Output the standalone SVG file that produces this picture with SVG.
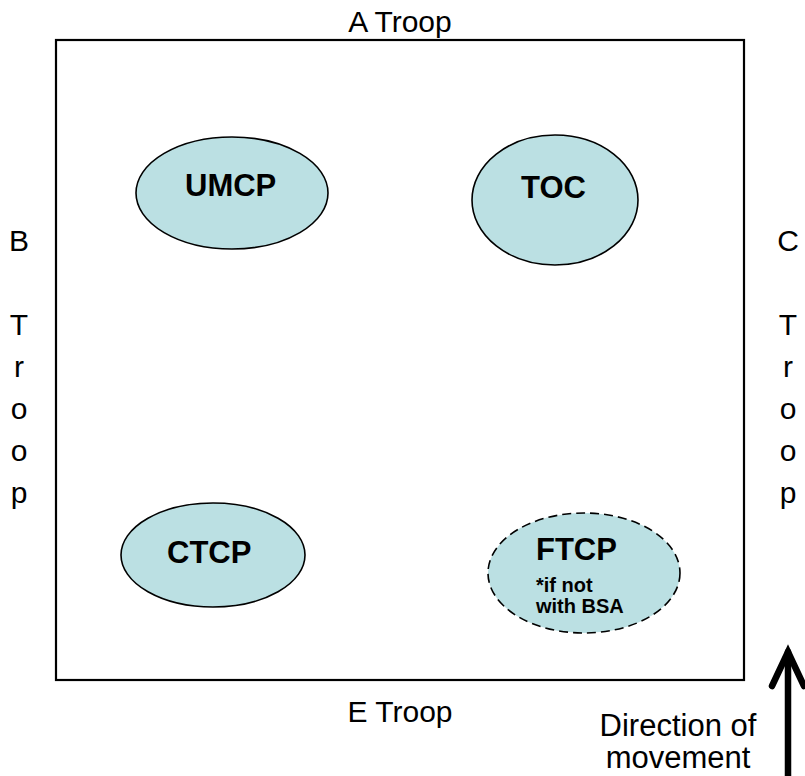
<svg xmlns="http://www.w3.org/2000/svg" width="805" height="776" viewBox="0 0 805 776">
  <style>
    .lbl { font-family: "Liberation Sans", Arial, sans-serif; font-size: 30px; fill: #000; }
    .node { fill: #bbe0e3; stroke: #000; stroke-width: 1.6; }
    .dashed { stroke-dasharray: 9 5; }
    .name { font-family: "Liberation Sans", Arial, sans-serif; font-size: 31px; font-weight: bold; fill: #000; }
    .note { font-family: "Liberation Sans", Arial, sans-serif; font-size: 20px; font-weight: bold; fill: #000; }
  </style>
  <rect width="805" height="776" fill="#fff"/>

  <!-- area boundary -->
  <rect id="area" x="56" y="40" width="688" height="640" fill="none" stroke="#000" stroke-width="2.2"/>

  <!-- surrounding troops -->
  <text class="lbl" x="400" y="32" text-anchor="middle">A Troop</text>
  <text class="lbl" x="400" y="722" text-anchor="middle">E Troop</text>
  <g class="lbl" text-anchor="middle">
    <text x="19" y="251">B</text>
    <text x="19" y="335">T</text>
    <text x="19" y="377">r</text>
    <text x="19" y="419">o</text>
    <text x="19" y="461">o</text>
    <text x="19" y="503">p</text>
  </g>
  <g class="lbl" text-anchor="middle">
    <text x="788" y="251">C</text>
    <text x="788" y="335">T</text>
    <text x="788" y="377">r</text>
    <text x="788" y="419">o</text>
    <text x="788" y="461">o</text>
    <text x="788" y="503">p</text>
  </g>

  <!-- command posts -->
  <g id="umcp">
    <ellipse class="node" cx="232" cy="193" rx="96" ry="56"/>
    <text class="name" x="185" y="196">UMCP</text>
  </g>
  <g id="toc">
    <ellipse class="node" cx="555" cy="200" rx="83" ry="65"/>
    <text class="name" x="521" y="198">TOC</text>
  </g>
  <g id="ctcp">
    <ellipse class="node" cx="213" cy="555" rx="92" ry="52"/>
    <text class="name" x="167" y="563">CTCP</text>
  </g>
  <g id="ftcp">
    <ellipse class="node dashed" cx="584" cy="573" rx="96" ry="60"/>
    <text class="name" x="536" y="560">FTCP</text>
    <text class="note" x="536" y="592">*if not</text>
    <text class="note" x="536" y="613">with BSA</text>
  </g>

  <!-- direction of movement -->
  <g id="direction">
    <text class="lbl" x="678" y="736" text-anchor="middle" style="font-size:31px">Direction of</text>
    <text class="lbl" x="678" y="768" text-anchor="middle" style="font-size:31px">movement</text>
    <g fill="none" stroke="#000" stroke-width="6.5" stroke-linecap="round" stroke-linejoin="miter">
      <line x1="788" y1="652" x2="788" y2="790"/>
      <polyline points="772,686 788,652 804,686"/>
    </g>
  </g>
</svg>
